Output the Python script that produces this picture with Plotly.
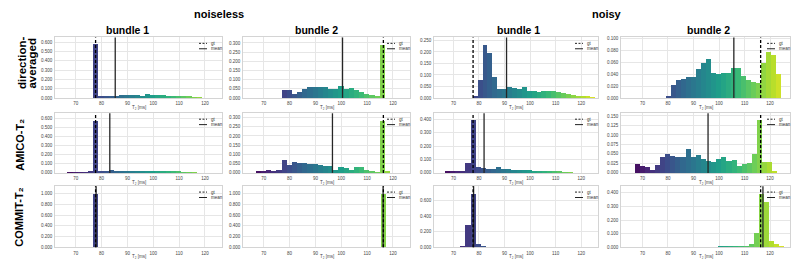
import plotly.graph_objects as go
from plotly.colors import sample_colorscale

FIG_W, FIG_H = 800, 267

# ---------------- data ----------------
T2_TICKS = [70, 80, 90, 100, 110, 120]
GROUP_TITLES = ["noiseless", "noisy"]
COLUMN_TITLES = ["bundle 1", "bundle 2", "bundle 1", "bundle 2"]

GT_BUNDLE_1 = 77.7
GT_BUNDLE_2 = 116.3

# direction-averaged
DA_NOISELESS_B1_START, DA_NOISELESS_B1_WIDTH = 76.8, 2.0
DA_NOISELESS_B1 = [0.57, 0.02, 0.012, 0.012, 0.02, 0.028, 0.03, 0.03, 0.025, 0.02, 0.035,
                   0.028, 0.025, 0.025, 0.022, 0.02, 0.018, 0.01, 0.008, 0.006, 0.004]
DA_NOISELESS_B1_MEAN = 85.3

DA_NOISELESS_B2_START, DA_NOISELESS_B2_WIDTH = 76.9, 2.0
DA_NOISELESS_B2 = [0.04, 0.04, 0.02, 0.03, 0.045, 0.055, 0.055, 0.058, 0.06, 0.045, 0.045,
                   0.065, 0.045, 0.05, 0.04, 0.03, 0.02, 0.012, 0.005, 0.285]
DA_NOISELESS_B2_MEAN = 100.5

DA_NOISY_B1_START, DA_NOISY_B1_WIDTH = 77.58, 1.92
DA_NOISY_B1 = [0.004, 0.075, 0.23, 0.195, 0.09, 0.039, 0.036, 0.044, 0.042, 0.038, 0.045,
               0.03, 0.028, 0.025, 0.028, 0.03, 0.03, 0.025, 0.02, 0.015, 0.01, 0.008,
               0.005, 0.005, 0.002]
DA_NOISY_B1_MEAN = 90.8

DA_NOISY_B2_START, DA_NOISY_B2_WIDTH = 79.2, 1.96
DA_NOISY_B2 = [0.001, 0.021, 0.03, 0.031, 0.034, 0.034, 0.048, 0.058, 0.065, 0.042, 0.04,
               0.042, 0.041, 0.05, 0.049, 0.036, 0.03, 0.027, 0.025, 0.058, 0.077, 0.072,
               0.04]
DA_NOISY_B2_MEAN = 105.8

# AMICO-T2
AM_NOISELESS_B1_START, AM_NOISELESS_B1_WIDTH = 66.8, 2.0
AM_NOISELESS_B1 = [0.005, 0.005, 0.004, 0.006, 0.008, 0.57, 0.015, 0.02, 0.025, 0.02, 0.02,
                   0.018, 0.02, 0.015, 0.012, 0.015, 0.012, 0.01, 0.012, 0.008, 0.01, 0.008,
                   0.006, 0.004, 0.002]
AM_NOISELESS_B1_MEAN = 83.2

AM_NOISELESS_B2_START, AM_NOISELESS_B2_WIDTH = 66.9, 2.0
AM_NOISELESS_B2 = [0.008, 0.01, 0.012, 0.01, 0.012, 0.068, 0.04, 0.057, 0.05, 0.052, 0.048,
                   0.045, 0.04, 0.038, 0.038, 0.015, 0.03, 0.025, 0.012, 0.028, 0.028, 0.012,
                   0.005, 0.002, 0.28, 0.01]
AM_NOISELESS_B2_MEAN = 96.6

AM_NOISY_B1_START, AM_NOISY_B1_WIDTH = 66.7, 2.0
AM_NOISY_B1 = [0.015, 0.012, 0.01, 0.01, 0.075, 0.39, 0.045, 0.035, 0.03, 0.028, 0.038,
               0.03, 0.025, 0.02, 0.02, 0.02, 0.018, 0.015, 0.015, 0.012, 0.01, 0.008,
               0.005, 0.003, 0.002]
AM_NOISY_B1_MEAN = 82.0

AM_NOISY_B2_START, AM_NOISY_B2_WIDTH = 66.9, 2.0
AM_NOISY_B2 = [0.022, 0.018, 0.016, 0.008, 0.02, 0.042, 0.05, 0.045, 0.04, 0.042, 0.062,
               0.04, 0.047, 0.035, 0.03, 0.028, 0.035, 0.04, 0.03, 0.033, 0.018, 0.022,
               0.025, 0.048, 0.138, 0.028, 0.028, 0.003]
AM_NOISY_B2_MEAN = 95.7

# COMMIT-T2
CO_NOISELESS_B1_START, CO_NOISELESS_B1_WIDTH = 76.8, 2.0
CO_NOISELESS_B1 = [1.0]
CO_NOISELESS_B1_MEAN = 77.9

CO_NOISELESS_B2_START, CO_NOISELESS_B2_WIDTH = 115.2, 2.0
CO_NOISELESS_B2 = [1.0]
CO_NOISELESS_B2_MEAN = 116.2

CO_NOISY_B1_START, CO_NOISY_B1_WIDTH = 72.7, 2.0
CO_NOISY_B1 = [0.005, 0.28, 0.677, 0.034, 0.005]
CO_NOISY_B1_MEAN = 77.9

CO_NOISY_B2_START, CO_NOISY_B2_WIDTH = 99.6, 2.0
CO_NOISY_B2 = [0.004, 0.002, 0.002, 0.003, 0.003, 0.005, 0.02, 0.1, 0.39, 0.33, 0.045,
               0.02, 0.005]
CO_NOISY_B2_MEAN = 117.2

PANELS = [
    (0, 0, DA_NOISELESS_B1_START, DA_NOISELESS_B1_WIDTH, DA_NOISELESS_B1, GT_BUNDLE_1, DA_NOISELESS_B1_MEAN),
    (0, 1, DA_NOISELESS_B2_START, DA_NOISELESS_B2_WIDTH, DA_NOISELESS_B2, GT_BUNDLE_2, DA_NOISELESS_B2_MEAN),
    (0, 2, DA_NOISY_B1_START, DA_NOISY_B1_WIDTH, DA_NOISY_B1, GT_BUNDLE_1, DA_NOISY_B1_MEAN),
    (0, 3, DA_NOISY_B2_START, DA_NOISY_B2_WIDTH, DA_NOISY_B2, GT_BUNDLE_2, DA_NOISY_B2_MEAN),
    (1, 0, AM_NOISELESS_B1_START, AM_NOISELESS_B1_WIDTH, AM_NOISELESS_B1, GT_BUNDLE_1, AM_NOISELESS_B1_MEAN),
    (1, 1, AM_NOISELESS_B2_START, AM_NOISELESS_B2_WIDTH, AM_NOISELESS_B2, GT_BUNDLE_2, AM_NOISELESS_B2_MEAN),
    (1, 2, AM_NOISY_B1_START, AM_NOISY_B1_WIDTH, AM_NOISY_B1, GT_BUNDLE_1, AM_NOISY_B1_MEAN),
    (1, 3, AM_NOISY_B2_START, AM_NOISY_B2_WIDTH, AM_NOISY_B2, GT_BUNDLE_2, AM_NOISY_B2_MEAN),
    (2, 0, CO_NOISELESS_B1_START, CO_NOISELESS_B1_WIDTH, CO_NOISELESS_B1, GT_BUNDLE_1, CO_NOISELESS_B1_MEAN),
    (2, 1, CO_NOISELESS_B2_START, CO_NOISELESS_B2_WIDTH, CO_NOISELESS_B2, GT_BUNDLE_2, CO_NOISELESS_B2_MEAN),
    (2, 2, CO_NOISY_B1_START, CO_NOISY_B1_WIDTH, CO_NOISY_B1, GT_BUNDLE_1, CO_NOISY_B1_MEAN),
    (2, 3, CO_NOISY_B2_START, CO_NOISY_B2_WIDTH, CO_NOISY_B2, GT_BUNDLE_2, CO_NOISY_B2_MEAN),
]

# ---------------- layout / style ----------------
COL_X = [(55, 222), (243, 410), (434, 598), (621, 790)]
ROW_Y = [(37, 98.5), (114, 174.5), (188, 250)]
X_RANGE = [(62, 126.6), (62, 126.6), (62.4, 126.6), (61.6, 127.8)]
Y_MAX = [[0.65, 0.33, 0.263, 0.102], [0.658, 0.323, 0.444, 0.157], [1.14, 1.14, 0.78, 0.449]]
Y_DTICK = [[0.1, 0.05, 0.05, 0.02], [0.1, 0.05, 0.1, 0.025], [0.2, 0.2, 0.2, 0.1]]
CMAP_LO, CMAP_HI = 65.0, 128.0
FONT = "Liberation Sans, Arial, DejaVu Sans, sans-serif"
TICK_FONT = dict(family=FONT, size=4.5, color="#444444")
GRID = "#e6e6e6"
FRAME = "#d4d4d4"


def px_x(v):
    return v / FIG_W


def px_y(v):
    return 1 - v / FIG_H


fig = go.Figure()
layout = {}
shapes = []
annotations = []

for (r, c, start, width, freq, gt, mean) in PANELS:
    k = r * 4 + c + 1
    xa = "x" if k == 1 else f"x{k}"
    ya = "y" if k == 1 else f"y{k}"
    n = len(freq)
    centers = [start + width * (j + 0.5) for j in range(n)]
    t = [min(max((x - CMAP_LO) / (CMAP_HI - CMAP_LO), 0.0), 1.0) for x in centers]
    colors = sample_colorscale("Viridis", t)
    fig.add_trace(go.Bar(x=centers, y=freq, width=[width] * n,
                         marker=dict(color=colors, line=dict(width=0)),
                         xaxis=xa, yaxis=ya, showlegend=False, hoverinfo="skip"))

    x0, x1 = COL_X[c]
    y0, y1 = ROW_Y[r]
    layout["xaxis" if k == 1 else f"xaxis{k}"] = dict(
        domain=[px_x(x0), px_x(x1)], anchor=ya, range=list(X_RANGE[c]),
        tickvals=T2_TICKS, ticks="", tickfont=TICK_FONT, showgrid=True,
        gridcolor=GRID, gridwidth=0.6, zeroline=False, showline=True, mirror=True,
        linecolor=FRAME, linewidth=0.8, ticklabelstandoff=1)
    layout["yaxis" if k == 1 else f"yaxis{k}"] = dict(
        domain=[px_y(y1), px_y(y0)], anchor=xa, range=[0, Y_MAX[r][c]],
        tick0=0, dtick=Y_DTICK[r][c], tickformat=".3f", ticks="", tickfont=TICK_FONT,
        showgrid=True, gridcolor=GRID, gridwidth=0.6, zeroline=False, showline=True,
        mirror=True, linecolor=FRAME, linewidth=0.8, ticklabelstandoff=1)

    # mean and ground-truth vertical lines (span the full axis height)
    shapes.append(dict(type="line", xref=xa, yref=f"{ya} domain", x0=mean, x1=mean,
                       y0=0, y1=1, line=dict(color="#262626", width=1.3)))
    shapes.append(dict(type="line", xref=xa, yref=f"{ya} domain", x0=gt, x1=gt,
                       y0=0, y1=1, line=dict(color="black", width=1.3, dash="3px,2px")))

    # per-panel legend (top-right)
    lx0, lx1 = x1 - 23, x1 - 15
    for dy, dash, label in [(6, "2px,1.5px", "gt"), (11.5, "solid", "mean")]:
        shapes.append(dict(type="line", xref="paper", yref="paper",
                           x0=px_x(lx0), x1=px_x(lx1), y0=px_y(y0 + dy), y1=px_y(y0 + dy),
                           line=dict(color="#222222", width=1.0, dash=dash)))
        annotations.append(dict(text=label, xref="paper", yref="paper",
                                x=px_x(x1 - 13), y=px_y(y0 + dy), xanchor="left",
                                yanchor="middle", showarrow=False,
                                font=dict(family=FONT, size=4.5, color="#333333")))
    # x axis title
    annotations.append(dict(text="T₂ [ms]", xref="paper", yref="paper",
                            x=px_x((x0 + x1) / 2), y=px_y(y1 + 9.5), xanchor="center",
                            yanchor="middle", showarrow=False,
                            font=dict(family=FONT, size=4.5, color="#444444")))

# group titles
for text, cx in zip(GROUP_TITLES, [219, 607]):
    annotations.append(dict(text=f"<b>{text}</b>", xref="paper", yref="paper",
                            x=px_x(cx), y=px_y(13), xanchor="center", yanchor="middle",
                            showarrow=False, font=dict(family=FONT, size=11, color="black")))
# column titles
for text, cx in zip(COLUMN_TITLES, [127, 316, 518, 708]):
    annotations.append(dict(text=f"<b>{text}</b>", xref="paper", yref="paper",
                            x=px_x(cx), y=px_y(29), xanchor="center", yanchor="middle",
                            showarrow=False, font=dict(family=FONT, size=10.5, color="black")))
# row titles
for text, cx, cy, size in [("direction-", 22, 63, 11.5), ("averaged", 32.5, 63, 11.5),
                           ("AMICO-T₂", 20, 146, 11),
                           ("COMMIT-T₂", 19, 220, 11)]:
    annotations.append(dict(text=f"<b>{text}</b>", xref="paper", yref="paper",
                            x=px_x(cx), y=px_y(cy), xanchor="center", yanchor="middle",
                            textangle=-90, showarrow=False,
                            font=dict(family=FONT, size=size, color="black")))

fig.update_layout(
    width=FIG_W, height=FIG_H, margin=dict(l=0, r=0, t=0, b=0),
    paper_bgcolor="white", plot_bgcolor="white", barmode="overlay", bargap=0,
    shapes=shapes, annotations=annotations, showlegend=False, **layout)

fig.write_html("out.html", config={"displayModeBar": False},
               post_script="document.body.style.margin='0';document.body.style.overflow='hidden';")
